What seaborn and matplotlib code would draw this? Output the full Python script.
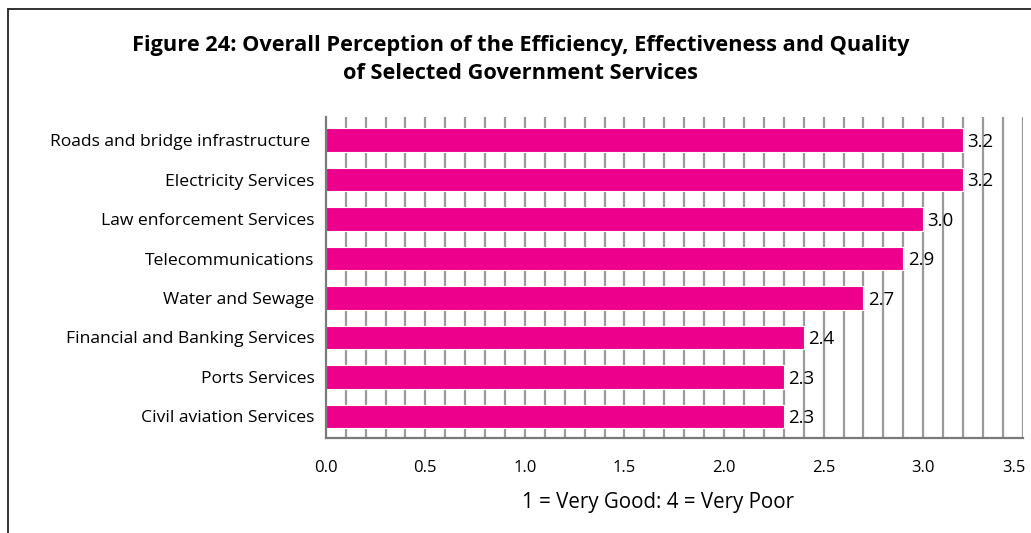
import matplotlib
matplotlib.use("Agg")
import matplotlib.pyplot as plt
import matplotlib.transforms as mtransforms
import seaborn as sns
import pandas as pd
import numpy as np
from matplotlib.lines import Line2D

services = [
    "Roads and bridge infrastructure ",
    "Electricity Services",
    "Law enforcement Services",
    "Telecommunications",
    "Water and Sewage",
    "Financial and Banking Services",
    "Ports Services",
    "Civil aviation Services",
]
scores = [3.2, 3.2, 3.0, 2.9, 2.7, 2.4, 2.3, 2.3]
x_ticks = [0.0, 0.5, 1.0, 1.5, 2.0, 2.5, 3.0, 3.5]

sns.set_theme(style="white")
plt.rcParams["font.family"] = ["Open Sans", "DejaVu Sans"]
plt.rcParams["text.color"] = "black"
plt.rcParams["axes.labelcolor"] = "black"
plt.rcParams["xtick.color"] = "black"
plt.rcParams["ytick.color"] = "black"

df = pd.DataFrame({"service": services, "score": scores})

fig = plt.figure(figsize=(10.31, 5.33), dpi=100)
ax = fig.add_axes([0.316, 0.178, 0.676, 0.602])

# fine vertical grid every 0.1
for gx in np.arange(0.1, 3.51, 0.1):
    ax.axvline(gx, color="#9a9a9a", lw=1.6, zorder=0)

sns.barplot(data=df, x="score", y="service", orient="h", color="#EC008C",
            saturation=1, width=0.6, edgecolor="white", linewidth=0.8,
            ax=ax, zorder=2)

for i, v in enumerate(scores):
    ax.text(v + 0.022, i + 0.04, f"{v:.1f}", va="center", ha="left",
            fontsize=13.5, color="black", zorder=3)

ax.set_xlim(0, 3.5)
ax.set_ylim(7.55, -0.58)
ax.set_xticks(x_ticks)
ax.set_xticklabels([f"{t:.1f}" for t in x_ticks], fontsize=12)
ax.tick_params(axis="x", length=0, pad=16)
ax.tick_params(axis="y", length=0, pad=8, labelsize=12.6)
ax.set_ylabel("")
ax.set_xlabel("1 = Very Good: 4 = Very Poor", fontsize=14.8, labelpad=11)
ax.xaxis.label.set_x(0.476)

# keep the last tick label inside the figure
last = ax.get_xticklabels()[-1]
last.set_transform(last.get_transform() +
                   mtransforms.ScaledTranslation(-0.09, 0, fig.dpi_scale_trans))

for s in ["top", "right"]:
    ax.spines[s].set_visible(False)
for s in ["left", "bottom"]:
    ax.spines[s].set_color("#7a7a7a")
    ax.spines[s].set_linewidth(1.6)

fig.text(0.505, 0.915, "Figure 24: Overall Perception of the Efficiency, Effectiveness and Quality",
         ha="center", va="center", fontsize=15.7, fontweight="bold")
fig.text(0.505, 0.862, "of Selected Government Services",
         ha="center", va="center", fontsize=15.7, fontweight="bold")

# frame lines
fig.add_artist(Line2D([0.0078, 0.0078], [0.0, 0.983], transform=fig.transFigure,
                      color="#222222", lw=1.3))
fig.add_artist(Line2D([0.0078, 1.0], [0.983, 0.983], transform=fig.transFigure,
                      color="#222222", lw=1.3))

fig.savefig("out.png", dpi=100)
